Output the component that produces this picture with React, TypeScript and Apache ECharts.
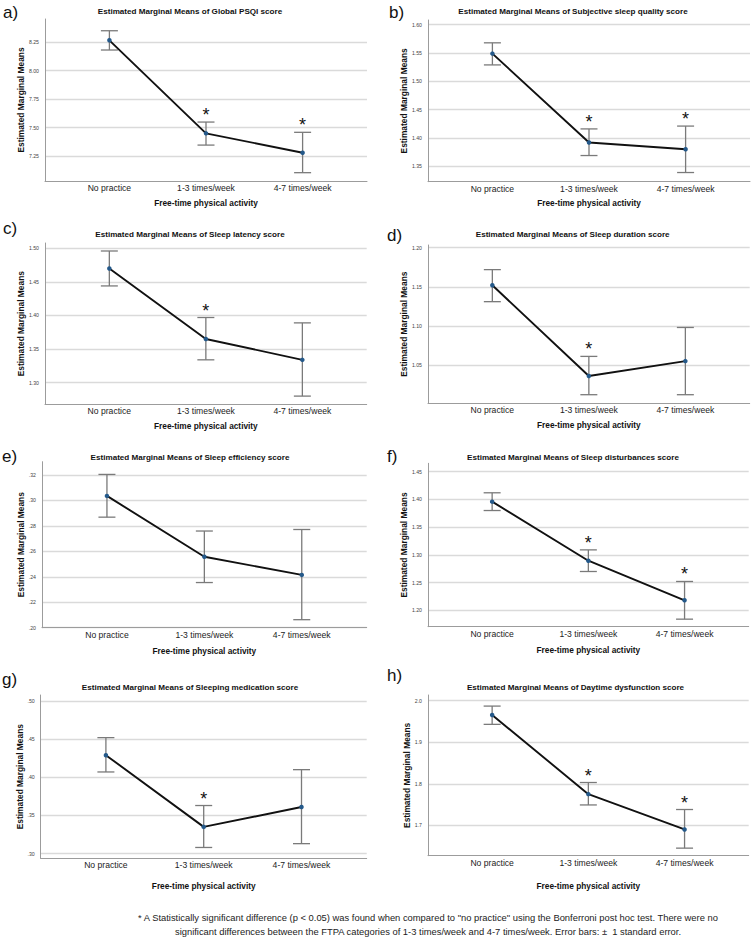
import React, { useEffect, useRef } from "react";
import * as echarts from "echarts";

// ---------------- data ----------------
const categories = ["No practice", "1-3 times/week", "4-7 times/week"];

const panelLetters = ["a)", "b)", "c)", "d)", "e)", "f)", "g)", "h)"];
const panelTitles = [
  "Estimated Marginal Means of Global PSQI score",
  "Estimated Marginal Means of Subjective sleep quality score",
  "Estimated Marginal Means of Sleep latency score",
  "Estimated Marginal Means of Sleep duration score",
  "Estimated Marginal Means of Sleep efficiency score",
  "Estimated Marginal Means of Sleep disturbances score",
  "Estimated Marginal Means of Sleeping medication score",
  "Estimated Marginal Means of Daytime dysfunction score",
];

// a) Global PSQI
const meansA = [8.265, 7.449, 7.279];
const lowerA = [8.18, 7.346, 7.104];
const upperA = [8.349, 7.548, 7.458];
const sigA = [false, true, true];
const ticksA = [7.25, 7.5, 7.75, 8.0, 8.25];

// b) Subjective sleep quality
const meansB = [1.549, 1.392, 1.38];
const lowerB = [1.529, 1.369, 1.339];
const upperB = [1.568, 1.416, 1.421];
const sigB = [false, true, true];
const ticksB = [1.35, 1.4, 1.45, 1.5, 1.55, 1.6];

// c) Sleep latency
const meansC = [1.47, 1.365, 1.334];
const lowerC = [1.444, 1.334, 1.28];
const upperC = [1.496, 1.397, 1.389];
const sigC = [false, true, false];
const ticksC = [1.3, 1.35, 1.4, 1.45, 1.5];

// d) Sleep duration
const meansD = [1.152, 1.036, 1.055];
const lowerD = [1.131, 1.012, 1.012];
const upperD = [1.172, 1.061, 1.098];
const sigD = [false, true, false];
const ticksD = [1.05, 1.1, 1.15, 1.2];

// e) Sleep efficiency
const meansE = [0.3036, 0.2558, 0.2415];
const lowerE = [0.2869, 0.2355, 0.2063];
const upperE = [0.3205, 0.276, 0.2772];
const sigE = [false, false, false];
const ticksE = [0.2, 0.22, 0.24, 0.26, 0.28, 0.3, 0.32];

// f) Sleep disturbances
const meansF = [1.396, 1.2895, 1.218];
const lowerF = [1.38, 1.27, 1.184];
const upperF = [1.412, 1.309, 1.252];
const sigF = [false, true, true];
const ticksF = [1.2, 1.25, 1.3, 1.35, 1.4, 1.45];

// g) Sleeping medication
const meansG = [0.429, 0.335, 0.361];
const lowerG = [0.407, 0.308, 0.313];
const upperG = [0.452, 0.363, 0.41];
const sigG = [false, true, false];
const ticksG = [0.3, 0.35, 0.4, 0.45, 0.5];

// h) Daytime dysfunction
const meansH = [1.9655, 1.775, 1.69];
const lowerH = [1.943, 1.749, 1.645];
const upperH = [1.987, 1.803, 1.738];
const sigH = [false, true, true];
const ticksH = [1.7, 1.8, 1.9, 2.0];

// tick label formats: [decimals, leading zero]
const tickFormats: [number, boolean][] = [
  [2, true], [2, true], [2, true], [2, true],
  [2, false], [2, true], [2, false], [1, true],
];

const xAxisTitle = "Free-time physical activity";
const yAxisTitle = "Estimated Marginal Means";
const footnoteLines = [
  '* A Statistically significant difference (p < 0.05) was found when compared to "no practice" using the Bonferroni post hoc test. There were no',
  "significant differences between the FTPA categories of 1-3 times/week and 4-7 times/week. Error bars: \u00B1  1 standard error.",
];

// ---------------- layout ----------------
const layout = [
  { left: 45, top: 19, width: 322, height: 162, yMin: 7.031, yMax: 8.452, lx: 3, ly: 12, tx: 190, ty: 11, xg: 18 },
  { left: 428, top: 20, width: 322, height: 161.7, yMin: 1.3228, yMax: 1.6083, lx: 389, ly: 12, tx: 573, ty: 11, xg: 17 },
  { left: 45, top: 243, width: 321.7, height: 161.3, yMin: 1.2678, yMax: 1.5079, lx: 3, ly: 228, tx: 190, ty: 234.3, xg: 18 },
  { left: 428, top: 245, width: 321.7, height: 158.3, yMin: 1.001, yMax: 1.2035, lx: 387, ly: 235, tx: 572.7, ty: 234, xg: 18 },
  { left: 42, top: 461.7, width: 324.7, height: 166, yMin: 0.2, yMax: 0.3305, lx: 2, ly: 456.5, tx: 190, ty: 457.3, xg: 19 },
  { left: 428, top: 463.3, width: 320.7, height: 163.4, yMin: 1.1704, yMax: 1.4652, lx: 387, ly: 456, tx: 573, ty: 457.3, xg: 19 },
  { left: 40.7, top: 695, width: 326, height: 163.3, yMin: 0.2938, yMax: 0.5079, lx: 2, ly: 679, tx: 190, ty: 687.7, xg: 24 },
  { left: 428, top: 695, width: 320.7, height: 160.7, yMin: 1.6268, yMax: 2.0137, lx: 387, ly: 675, tx: 575.5, ty: 687.3, xg: 26 },
];

const SANS = "'Liberation Sans', Arial, sans-serif";

const panelsData = [
  { means: meansA, lower: lowerA, upper: upperA, sig: sigA, ticks: ticksA },
  { means: meansB, lower: lowerB, upper: upperB, sig: sigB, ticks: ticksB },
  { means: meansC, lower: lowerC, upper: upperC, sig: sigC, ticks: ticksC },
  { means: meansD, lower: lowerD, upper: upperD, sig: sigD, ticks: ticksD },
  { means: meansE, lower: lowerE, upper: upperE, sig: sigE, ticks: ticksE },
  { means: meansF, lower: lowerF, upper: upperF, sig: sigF, ticks: ticksF },
  { means: meansG, lower: lowerG, upper: upperG, sig: sigG, ticks: ticksG },
  { means: meansH, lower: lowerH, upper: upperH, sig: sigH, ticks: ticksH },
];

function fmt(v: number, dec: number, lead: boolean) {
  let s = v.toFixed(dec);
  if (!lead && s.startsWith("0")) s = s.slice(1);
  return s;
}

export default function App() {
  const ref = useRef<HTMLDivElement>(null);

  useEffect(() => {
    document.body.style.margin = "0";
    if (!ref.current) return;
    const chart = echarts.init(ref.current, undefined, { renderer: "svg" });

    const grids: any[] = [];
    const xAxes: any[] = [];
    const yAxes: any[] = [];
    const series: any[] = [];
    const graphics: any[] = [];

    panelsData.forEach((p, k) => {
      const L = layout[k];
      const [dec, lead] = tickFormats[k];
      grids.push({ left: L.left, top: L.top, width: L.width, height: L.height, containLabel: false });
      xAxes.push({
        type: "value",
        gridIndex: k,
        min: -2 / 3,
        max: 8 / 3,
        axisLine: { show: true, onZero: false, lineStyle: { color: "#9c9c9c", width: 1 } },
        axisTick: { show: false, customValues: [0, 1, 2] },
        axisLabel: {
          customValues: [0, 1, 2],
          formatter: (v: number) => categories[Math.round(v)] ?? "",
          margin: 2.5,
          fontSize: 8.6,
          fontFamily: SANS,
          color: "#222",
        },
        splitLine: { show: false },
        name: xAxisTitle,
        nameLocation: "middle",
        nameGap: L.xg,
        nameTextStyle: { fontSize: 8.3, fontWeight: "bold", fontFamily: SANS, color: "#111" },
      });
      yAxes.push({
        type: "value",
        gridIndex: k,
        min: L.yMin,
        max: L.yMax,
        axisLine: { show: true, onZero: false, lineStyle: { color: "#9c9c9c", width: 1 } },
        axisTick: { show: false, customValues: p.ticks },
        axisLabel: {
          customValues: p.ticks,
          formatter: (v: number) => fmt(v, dec, lead),
          margin: 6,
          fontSize: 5.2,
          fontFamily: SANS,
          color: "#444",
        },
        splitLine: { show: true, lineStyle: { color: "#dadada", width: 1.3 } },
        name: yAxisTitle,
        nameLocation: "middle",
        nameGap: 12,
        nameTextStyle: { fontSize: 8.4, fontWeight: "bold", fontFamily: SANS, color: "#111" },
      });

      series.push({
        type: "custom",
        xAxisIndex: k,
        yAxisIndex: k,
        z: 1,
        silent: true,
        encode: { x: 0, y: [1, 2] },
        data: p.means.map((_, i) => [i, p.lower[i], p.upper[i], p.sig[i] ? 1 : 0]),
        renderItem: (params: any, api: any) => {
          const x = api.value(0);
          const lo = api.value(1);
          const hi = api.value(2);
          const sig = api.value(3);
          const pLo = api.coord([x, lo]);
          const pHi = api.coord([x, hi]);
          const cap = 8.5;
          const st = { stroke: "#7a7a7a", lineWidth: 1.3, fill: "none" };
          const children: any[] = [
            { type: "line", shape: { x1: pLo[0], y1: pLo[1], x2: pHi[0], y2: pHi[1] }, style: st },
            { type: "line", shape: { x1: pHi[0] - cap, y1: pHi[1], x2: pHi[0] + cap, y2: pHi[1] }, style: st },
            { type: "line", shape: { x1: pLo[0] - cap, y1: pLo[1], x2: pLo[0] + cap, y2: pLo[1] }, style: st },
          ];
          if (sig) {
            children.push({
              type: "text",
              style: {
                text: "*",
                x: pHi[0],
                y: pHi[1] - 7,
                align: "center",
                verticalAlign: "middle",
                textAlign: "center",
                textVerticalAlign: "middle",
                fontSize: 18,
                fontFamily: SANS,
                fill: "#111",
              },
            });
          }
          return { type: "group", children };
        },
      });

      series.push({
        type: "line",
        xAxisIndex: k,
        yAxisIndex: k,
        z: 3,
        silent: true,
        data: p.means.map((m, i) => [i, m]),
        symbol: "circle",
        symbolSize: 4.5,
        showSymbol: true,
        lineStyle: { color: "#111", width: 1.9 },
        itemStyle: { color: "#24598a", borderWidth: 0 },
      });

      graphics.push({
        type: "text",
        x: L.lx,
        y: L.ly,
        style: {
          text: panelLetters[k],
          fontSize: 17,
          fontFamily: SANS,
          fill: "#111",
          align: "left",
          verticalAlign: "middle",
          textAlign: "left",
          textVerticalAlign: "middle",
        },
      });
      graphics.push({
        type: "text",
        x: L.tx,
        y: L.ty,
        style: {
          text: panelTitles[k],
          fontSize: 8.1,
          fontWeight: "bold",
          fontFamily: SANS,
          fill: "#111",
          align: "center",
          verticalAlign: "middle",
          textAlign: "center",
          textVerticalAlign: "middle",
        },
      });
    });

    footnoteLines.forEach((t, i) => {
      graphics.push({
        type: "text",
        x: 428,
        y: 917 + i * 14.5,
        style: {
          text: t,
          fontSize: 9.4,
          fontFamily: SANS,
          fill: "#222",
          align: "center",
          verticalAlign: "middle",
          textAlign: "center",
          textVerticalAlign: "middle",
        },
      });
    });

    chart.setOption({
      animation: false,
      backgroundColor: "#ffffff",
      grid: grids,
      xAxis: xAxes,
      yAxis: yAxes,
      series,
      graphic: { elements: graphics },
    });

    return () => chart.dispose();
  }, []);

  return <div ref={ref} style={{ width: 755, height: 938 }} />;
}
